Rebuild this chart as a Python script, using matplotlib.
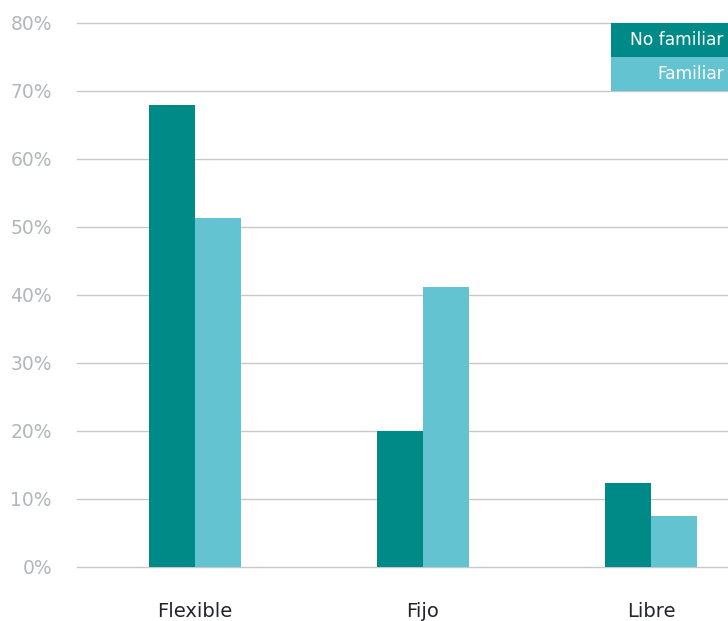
import matplotlib
matplotlib.use("Agg")
import matplotlib.pyplot as plt
from matplotlib.patches import Rectangle
import numpy as np

categories = ["Flexible", "Fijo", "Libre"]
series_names = ["No familiar", "Familiar"]
no_familiar = [67.9, 20.0, 12.4]
familiar = [51.3, 41.2, 7.5]
y_ticks = [0, 10, 20, 30, 40, 50, 60, 70, 80]
y_tick_labels = [f"{t}%" for t in y_ticks]

DARK = "#008A87"
LIGHT = "#63C3D0"
GRID = "#c8c8c8"
TICK = "#b3b6ba"
LABEL = "#23232f"

W, H = 728, 621
fig = plt.figure(figsize=(W / 100, H / 100), dpi=100)
ax = fig.add_axes([77 / W, (H - 567) / H, 1 - 77 / W, (567 - 23) / H])

x = np.arange(len(categories))
bw = 0.2
ax.bar(x - bw / 2, no_familiar, width=bw, color=DARK, zorder=3, linewidth=0)
ax.bar(x + bw / 2, familiar, width=bw, color=LIGHT, zorder=3, linewidth=0)

ax.set_ylim(0, 80)
ax.set_xlim(-0.5175, (W - 195) / 228)
ax.set_yticks(y_ticks)
ax.set_yticklabels(y_tick_labels)
ax.set_xticks(x)
ax.set_xticklabels(categories)
for t in y_ticks:
    ax.axhline(t, color=GRID, linewidth=1.0, zorder=1, clip_on=False)

for s in ax.spines.values():
    s.set_visible(False)
ax.tick_params(axis="y", length=0, pad=18, labelsize=13.5, labelcolor=TICK)
ax.tick_params(axis="x", length=0, pad=25, labelsize=14, labelcolor=LABEL)

# legend as colored boxes in the top-right corner
def px(xp, yp):
    return xp / W, 1 - yp / H

box_left = 611
rows = [(23, 57, DARK), (57, 91, LIGHT)]
for (top, bottom, col), name in zip(rows, series_names):
    x0, y0 = px(box_left, bottom)
    fig.add_artist(Rectangle((x0, y0), (W - box_left) / W + 0.05, (bottom - top) / H,
                             transform=fig.transFigure, color=col, linewidth=0, zorder=5))
    tx, ty = px(724, (top + bottom) / 2)
    fig.text(tx, ty, name, ha="right", va="center", color="white", fontsize=12.3, zorder=6)

fig.savefig("out.png", dpi=100)
